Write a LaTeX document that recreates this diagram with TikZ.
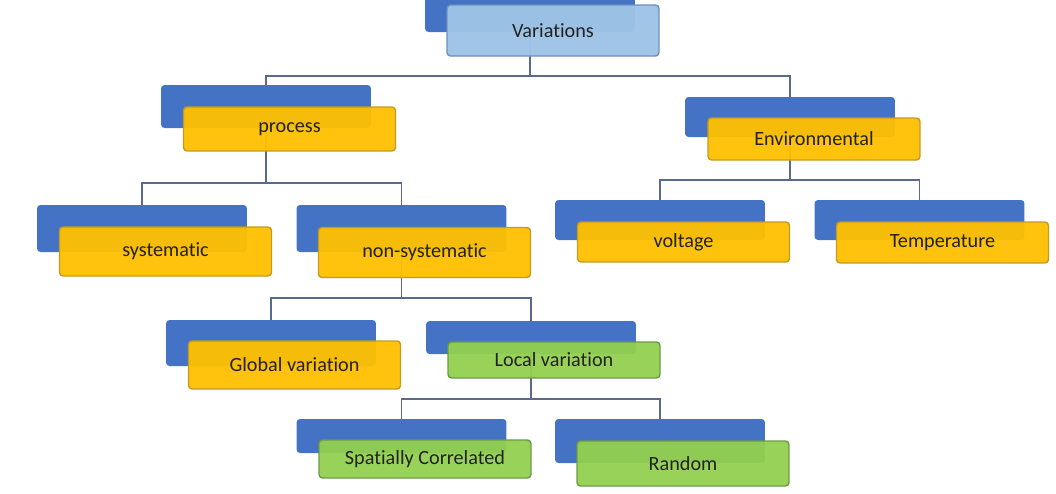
\documentclass[tikz,border=0pt]{standalone}
\usepackage{fontspec}
\setmainfont{Carlito}[Ligatures=NoCommon]
\usetikzlibrary{backgrounds}
\definecolor{backblue}{HTML}{4472C4}
\definecolor{boxgold}{HTML}{FFC000}
\definecolor{goldline}{HTML}{C39A22}
\definecolor{boxgreen}{HTML}{92D050}
\definecolor{greenline}{HTML}{6C9B45}
\definecolor{boxsky}{HTML}{9DC3E6}
\definecolor{skyline}{HTML}{6F8FBC}
\definecolor{treeline}{HTML}{5A6A8E}
\definecolor{boxtext}{HTML}{222222}

\begin{document}
\begin{tikzpicture}[x=0.02cm, y=-0.02cm,
	backbox/.style={rectangle, rounded corners=2pt, fill=backblue, minimum width=4.2cm, inner sep=0pt},
	frontbox/.style={rectangle, rounded corners=2pt, draw=goldline, line width=0.8pt, fill=boxgold, fill opacity=0.95, text opacity=1, text=boxtext, minimum width=4.24cm, inner sep=0pt, font=\fontsize{11.5}{13}\selectfont},
	greenbox/.style={frontbox, draw=greenline, fill=boxgreen},
	skybox/.style={frontbox, draw=skyline, fill=boxsky, fill opacity=0.97},
	tree/.style={draw=treeline, line width=0.8pt}]
				\useasboundingbox (0,0) rectangle (1056,494);
				\clip (0,0) rectangle (1056,494);

				\node[backbox, minimum height=51*0.02cm] (var-b) at (530,6.5) {};
				\node[skybox, minimum height=51*0.02cm] (var) at (553,30.5) {Variations};

				\node[backbox, minimum height=43*0.02cm] (proc-b) at (266,106.5) {};
				\node[frontbox, minimum height=44*0.02cm] (proc) at (289.5,129) {process};
				\node[backbox, minimum height=40*0.02cm] (env-b) at (790,117) {};
				\node[frontbox, minimum height=42*0.02cm] (env) at (814,139) {Environmental};

				\node[backbox, minimum height=47*0.02cm] (sys-b) at (142,228.5) {};
				\node[frontbox, minimum height=49*0.02cm] (sys) at (165.5,251.5) {systematic};
				\node[backbox, minimum height=47*0.02cm] (nonsys-b) at (401.5,228.5) {};
				\node[frontbox, minimum height=50*0.02cm] (nonsys) at (424.5,252.5) {non-systematic};
				\node[backbox, minimum height=40*0.02cm] (volt-b) at (660,220) {};
				\node[frontbox, minimum height=40*0.02cm] (volt) at (683.5,242) {voltage};
				\node[backbox, minimum height=40*0.02cm] (temp-b) at (919.5,220) {};
				\node[frontbox, minimum height=41*0.02cm] (temp) at (942.5,242.5) {Temperature};

				\node[backbox, minimum height=46*0.02cm] (glob-b) at (271,343) {};
				\node[frontbox, minimum height=48*0.02cm] (glob) at (294.5,365) {Global variation};
				\node[backbox, minimum height=33*0.02cm] (loc-b) at (531,337.5) {};
				\node[greenbox, minimum height=36*0.02cm] (loc) at (554,360) {Local variation};

				\node[backbox, minimum height=34*0.02cm] (spat-b) at (401.5,436) {};
				\node[greenbox, minimum height=38*0.02cm] (spat) at (425,459) {Spatially Correlated};
				\node[backbox, minimum height=44*0.02cm] (rand-b) at (660,441) {};
				\node[greenbox, minimum height=45*0.02cm] (rand) at (683,463.5) {Random};

				% tree lines go behind the boxes
				\begin{pgfonlayer}{background}
				\draw[tree] (var-b.center) -- ++(0,69.5) coordinate (j1);
				\draw[tree] (proc-b.north) |- (j1) -| (env-b.north);
				\draw[tree] (proc-b.center) -- ++(0,76.5) coordinate (j2);
				\draw[tree] (sys-b.north) |- (j2) -| (nonsys-b.north);
				\draw[tree] (env-b.center) -- ++(0,63) coordinate (j3);
				\draw[tree] (volt-b.north) |- (j3) -| (temp-b.north);
				\draw[tree] (nonsys-b.center) -- ++(0,69.5) coordinate (j4);
				\draw[tree] (glob-b.north) |- (j4) -| (loc-b.north);
				\draw[tree] (loc-b.center) -- ++(0,61.5) coordinate (j5);
				\draw[tree] (spat-b.north) |- (j5) -| (rand-b.north);
				\end{pgfonlayer}
				\end{tikzpicture}
\end{document}
